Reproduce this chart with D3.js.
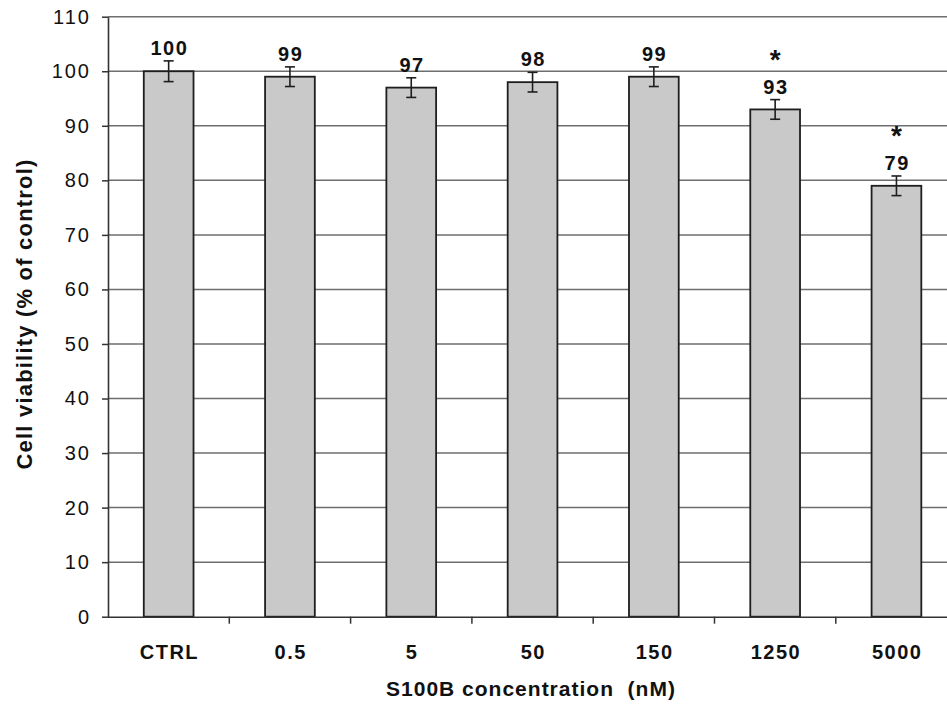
<!DOCTYPE html>
<html>
<head>
<meta charset="utf-8">
<script src="https://cdn.jsdelivr.net/npm/d3@7/dist/d3.min.js"></script>
<style>
  html, body { margin: 0; padding: 0; background: #fff; }
  svg { display: block; font-family: "Liberation Sans", Arial, sans-serif; }
</style>
</head>
<body>
<svg id="chart" width="947" height="706"></svg>
<script>
// S100B dose–response: cell viability as % of control
const categories = ["CTRL", "0.5", "5", "50", "150", "1250", "5000"];
const viability = [100, 99, 97, 98, 99, 93, 79];
const sem = [1.9, 1.8, 1.8, 1.8, 1.8, 1.8, 1.8];
const significant = [false, false, false, false, false, true, true];
const yTicks = [0, 10, 20, 30, 40, 50, 60, 70, 80, 90, 100, 110];

const svg = d3.select("#chart");
const W = 947, H = 706;
const left = 108, bandW = 121.3, bottomY = 616.7, topY = 16.7;
const FONT = "Liberation Sans, Arial, sans-serif";

const x = d3.scaleBand()
  .domain(categories)
  .range([left, left + bandW * categories.length])
  .paddingInner(0.59)
  .paddingOuter(0.295);

const y = d3.scaleLinear().domain([0, 110]).range([bottomY, topY]);

// horizontal gridlines
svg.append("g")
  .selectAll("line")
  .data(yTicks.filter(d => d > 0))
  .join("line")
  .attr("x1", left).attr("x2", W)
  .attr("y1", d => y(d)).attr("y2", d => y(d))
  .attr("stroke", "#6e6e6e")
  .attr("stroke-width", 1.5);

// bars
svg.append("g")
  .selectAll("rect")
  .data(categories)
  .join("rect")
  .attr("x", d => x(d))
  .attr("width", x.bandwidth())
  .attr("y", (d, i) => y(viability[i]))
  .attr("height", (d, i) => y(0) - y(viability[i]))
  .attr("fill", "#c9c9c9")
  .attr("stroke", "#1e1e1e")
  .attr("stroke-width", 1.8);

// error bars
const err = svg.append("g").attr("stroke", "#1e1e1e").attr("stroke-width", 1.6);
categories.forEach((c, i) => {
  const cx = x(c) + x.bandwidth() / 2;
  const y1 = y(viability[i] + sem[i]), y2 = y(viability[i] - sem[i]);
  err.append("line").attr("x1", cx).attr("x2", cx).attr("y1", y1).attr("y2", y2);
  err.append("line").attr("x1", cx - 5).attr("x2", cx + 5).attr("y1", y1).attr("y2", y1);
  err.append("line").attr("x1", cx - 5).attr("x2", cx + 5).attr("y1", y2).attr("y2", y2);
});

// value labels, with a significance asterisk stacked above where applicable
const labels = svg.append("g")
  .attr("font-weight", "bold")
  .attr("fill", "#111")
  .attr("text-anchor", "middle");
categories.forEach((c, i) => {
  const cx = x(c) + x.bandwidth() / 2;
  const base = y(viability[i] + sem[i]) - 6;
  if (significant[i]) {
    labels.append("text")
      .attr("x", cx).attr("y", base - 24.5)
      .attr("font-size", 28)
      .text("*");
  }
  labels.append("text")
    .attr("x", cx + 0.75).attr("y", base)
    .attr("font-size", 20)
    .attr("letter-spacing", 1.5)
    .text(viability[i]);
});

// y axis
const yAxis = svg.append("g")
  .attr("transform", `translate(${left},0)`)
  .call(d3.axisLeft(y).tickValues(yTicks).tickSize(6).tickSizeOuter(0).tickPadding(11));
yAxis.select(".domain").attr("stroke", "#333").attr("stroke-width", 1.6);
yAxis.selectAll(".tick line").attr("stroke", "#333").attr("stroke-width", 1.5);
yAxis.selectAll(".tick text")
  .attr("font-size", 20)
  .attr("letter-spacing", 2)
  .attr("fill", "#111")
  .attr("font-family", FONT);

// x axis: baseline with ticks between categories
const xAxis = svg.append("g")
  .attr("transform", `translate(0,${bottomY})`)
  .call(d3.axisBottom(x).tickSize(0).tickPadding(28));
xAxis.select(".domain").attr("d", `M${left},0.5H${W}`).attr("stroke", "#333").attr("stroke-width", 1.6);
xAxis.selectAll(".tick text")
  .attr("font-size", 20)
  .attr("font-weight", "bold")
  .attr("letter-spacing", 1.5)
  .attr("dx", 0.75)
  .attr("fill", "#111")
  .attr("font-family", FONT);
xAxis.append("g")
  .selectAll("line")
  .data(d3.range(1, categories.length + 1))
  .join("line")
  .attr("x1", k => x.step() * k + left)
  .attr("x2", k => x.step() * k + left)
  .attr("y1", 0).attr("y2", 7)
  .attr("stroke", "#333")
  .attr("stroke-width", 1.5);

// axis titles
svg.append("text")
  .attr("x", 531).attr("y", 696)
  .attr("text-anchor", "middle")
  .attr("font-size", 21)
  .attr("font-weight", "bold")
  .attr("letter-spacing", 1)
  .attr("fill", "#111")
  .attr("xml:space", "preserve")
  .style("white-space", "pre")
  .text("S100B concentration  (nM)");

svg.append("text")
  .attr("transform", "translate(32,314) rotate(-90)")
  .attr("text-anchor", "middle")
  .attr("font-size", 22)
  .attr("font-weight", "bold")
  .attr("letter-spacing", 1.2)
  .attr("fill", "#111")
  .text("Cell viability (% of control)");
</script>
</body>
</html>
